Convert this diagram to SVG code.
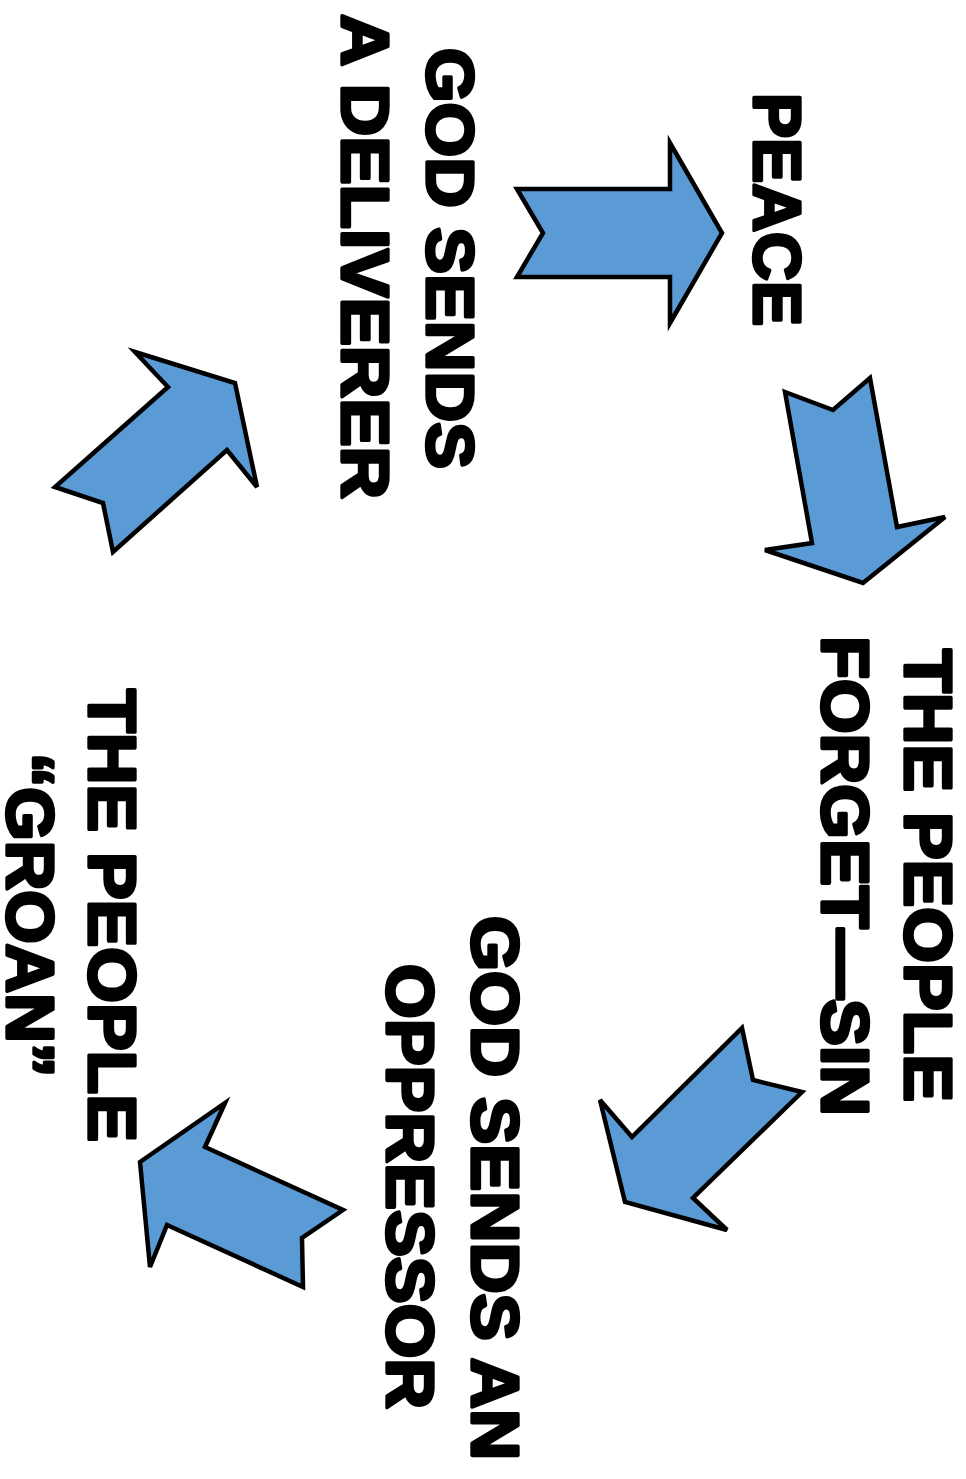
<svg xmlns="http://www.w3.org/2000/svg" width="966" height="1479" viewBox="0 0 966 1479">
<style>
.bg{fill:#ffffff}
.arrow{fill:#5B9BD5;stroke:#000000;stroke-width:4.5;stroke-linejoin:miter}
.lbl{font-family:"Liberation Sans",Arial,sans-serif;font-weight:bold;font-size:66px;fill:#000000;stroke:#000000;stroke-width:3.4;stroke-linejoin:round}
</style>
<rect class="bg" x="0" y="0" width="966" height="1479"/>
<g id="connectors">
<polygon id="arrow-1" class="arrow" points="517,189 543,233 517,277 670,277 670,323 722,233 670,143 670,189"/>
<polygon id="arrow-2" class="arrow" points="785,392 833,410 870,378 897,527 945,517 863,583 765,550 812,543"/>
<polygon id="arrow-3" class="arrow" points="742,1028 753,1080 802,1092 693,1198 727,1230 625,1202 600,1100 632,1137"/>
<polygon id="arrow-4" class="arrow" points="225,1103 205,1147 343,1210 302,1238 303,1287 167,1225 150,1267 140,1162"/>
<polygon id="arrow-5" class="arrow" points="135,352 235,383 257,487 227,450 113,552 103,503 55,487 168,387"/>
</g>
<g id="node-peace">
<text class="lbl" transform="translate(754,93) rotate(90)" textLength="233" lengthAdjust="spacingAndGlyphs">PEACE</text>
</g>
<g id="node-forget">
<text class="lbl" transform="translate(905,649) rotate(90)" textLength="453" lengthAdjust="spacingAndGlyphs">THE PEOPLE</text>
<text class="lbl" transform="translate(822,636) rotate(90)" textLength="480" lengthAdjust="spacingAndGlyphs">FORGET—SIN</text>
</g>
<g id="node-oppressor">
<text class="lbl" transform="translate(472,916) rotate(90)" textLength="544" lengthAdjust="spacingAndGlyphs">GOD SENDS AN</text>
<text class="lbl" transform="translate(387,964) rotate(90)" textLength="445" lengthAdjust="spacingAndGlyphs">OPPRESSOR</text>
</g>
<g id="node-groan">
<text class="lbl" transform="translate(89,689) rotate(90)" textLength="453" lengthAdjust="spacingAndGlyphs">THE PEOPLE</text>
<text class="lbl" transform="translate(7,753) rotate(90)" textLength="324" lengthAdjust="spacingAndGlyphs">“GROAN”</text>
</g>
<g id="node-deliverer">
<text class="lbl" transform="translate(427,48) rotate(90)" textLength="421" lengthAdjust="spacingAndGlyphs">GOD SENDS</text>
<text class="lbl" transform="translate(342,14) rotate(90)" textLength="485" lengthAdjust="spacingAndGlyphs">A DELIVERER</text>
</g>
</svg>
